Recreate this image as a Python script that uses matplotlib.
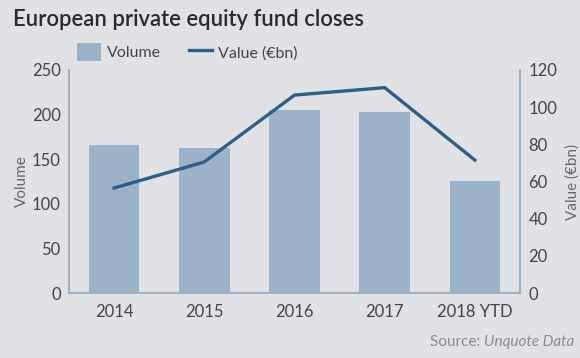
import matplotlib.pyplot as plt
import numpy as np

plt.rcParams['font.family'] = ['Lato', 'DejaVu Sans']

years = ['2014', '2015', '2016', '2017', '2018 YTD']
volume = [166, 163, 205, 203, 126]
value_bn = [56.5, 70.5, 106.5, 110.5, 71.5]

bg = '#e1e2e6'
bar_col = '#9bb2c7'
line_col = '#2e5f8a'
spine_col = '#9db4c7'

fig = plt.figure(figsize=(5.8, 3.58), dpi=100, facecolor=bg)
ax = fig.add_axes([69/580, 1 - 293/358, 451/580, 223/358])
ax.set_facecolor(bg)

x = np.arange(len(years))
bars = ax.bar(x, volume, width=0.56, color=bar_col, label='Volume', zorder=2)
ax.set_xlim(-0.5, len(years) - 0.5)
ax.set_ylim(0, 250)
ax.set_yticks(range(0, 251, 50))
ax.set_xticks(x)
ax.set_xticklabels(years)
ax.set_ylabel('Volume', fontsize=11, color='#666666', labelpad=2)

ax2 = ax.twinx()
line, = ax2.plot(x, value_bn, color=line_col, lw=2.4, label='Value (€bn)', zorder=3)
ax2.set_ylim(0, 120)
ax2.set_yticks(range(0, 121, 20))
ax2.set_ylabel('Value (€bn)', fontsize=11, color='#666666', labelpad=6)

for a in (ax, ax2):
    a.spines['top'].set_visible(False)
    for s in ('left', 'right', 'bottom'):
        a.spines[s].set_color(spine_col)
        a.spines[s].set_linewidth(1.5)
    a.tick_params(length=0, labelsize=12, colors='#444444', pad=6)
ax.tick_params(axis='x', pad=8)

fig.text(13/580, 1 - 20/358, 'European private equity fund closes', fontsize=15.8,
         fontweight='semibold', color='#2b2b2b', va='center', ha='left')

fig.legend([bars, line], ['Volume', 'Value (€bn)'], ncol=2, frameon=False,
           loc='center left', bbox_to_anchor=(63/580, 1 - 52/358), fontsize=11.5,
           labelcolor='#444444', handlelength=1.45, handleheight=1.3,
           columnspacing=1.75, handletextpad=0.4)

fig.text(574/580, 1 - 342/358, 'Source: ', fontsize=11, color='#8a8a8a',
         ha='right', va='center')
src = fig.text(574/580, 1 - 342/358, 'Unquote Data', fontsize=11, color='#8a8a8a',
               ha='right', va='center', style='italic')

# place "Source: " just left of the italic part
fig.canvas.draw()
r = fig.canvas.get_renderer()
bb = src.get_window_extent(r)
fig.texts[-2].set_position((bb.x0 / fig.bbox.width, 1 - 342/358))

fig.savefig('out.png', dpi=100, facecolor=bg)
